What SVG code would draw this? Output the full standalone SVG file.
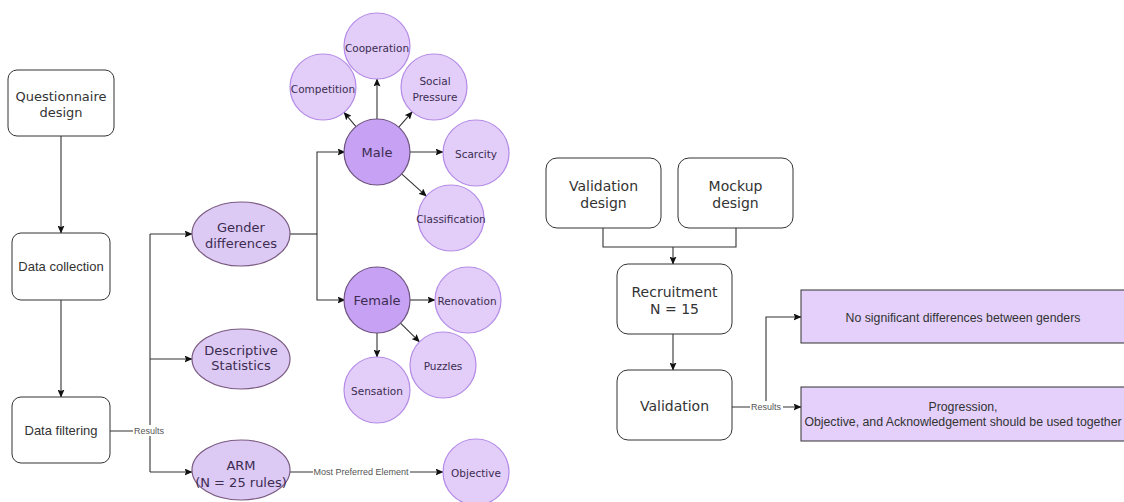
<svg xmlns="http://www.w3.org/2000/svg" width="1124" height="502" viewBox="0 0 1124 502">
  <defs>
    <marker id="arrow" viewBox="0 0 8 7" markerWidth="8" markerHeight="7" refX="7.5" refY="3.5" orient="auto" markerUnits="userSpaceOnUse">
      <path d="M0,0 L8,3.5 L0,7 L1.5,3.5 z" fill="#111"/>
    </marker>
    <style>
      .box { fill: #ffffff; stroke: #333333; stroke-width: 1; }
      .pbox { fill: #e4d0fb; stroke: #333333; stroke-width: 1; }
      .ell { fill: #dccaf5; stroke: #7a5a80; stroke-width: 1.2; }
      .core { fill: #c6a1f4; stroke: #6e5280; stroke-width: 1.2; }
      .leaf { fill: #e2cef9; stroke: #b48be6; stroke-width: 1.2; }
      .edge { fill: none; stroke: #333333; stroke-width: 1.1; }
      .arr { marker-end: url(#arrow); }
      .t-dv { font-family: "DejaVu Sans", Verdana, sans-serif; text-anchor: middle; }
      .t-ar { font-family: "Liberation Sans", Arial, sans-serif; text-anchor: middle; }
      .dark { fill: #333333; }
      .plum { fill: #3c2c50; }
      .lbl { font-family: "Liberation Sans", Arial, sans-serif; font-size: 9px; fill: #555555; text-anchor: middle; }
      .lblbg { fill: #ffffff; }
    </style>
  </defs>

  <!-- connectors -->
  <g id="connectors">
    <!-- study pipeline -->
    <path class="edge arr" d="M61,136 L61,233"/>
    <path class="edge arr" d="M61,300 L61,397"/>
    <path class="edge" d="M110,431 L150,431"/>
    <path class="edge" d="M150,234 L150,472"/>
    <path class="edge arr" d="M150,234 L192,234"/>
    <path class="edge arr" d="M150,359 L192,359"/>
    <path class="edge arr" d="M150,472 L192,472"/>
    <rect class="lblbg" x="133" y="425" width="32" height="11"/>
    <text class="lbl" x="149" y="434">Results</text>

    <!-- gender split -->
    <path class="edge" d="M290,234 L317,234"/>
    <path class="edge arr" d="M317,234 L317,152 L345,152"/>
    <path class="edge arr" d="M317,234 L317,300 L345,300"/>

    <!-- male elements -->
    <path class="edge arr" d="M377,119 L377,79"/>
    <path class="edge arr" d="M356,126.6 L344,112.4"/>
    <path class="edge arr" d="M398.8,127.2 L412.2,111.8"/>
    <path class="edge arr" d="M410,152 L443,152"/>
    <path class="edge arr" d="M401.6,173.9 L426.4,196.1"/>

    <!-- female elements -->
    <path class="edge arr" d="M410,300 L435,300"/>
    <path class="edge arr" d="M400.5,323.2 L419.5,341.8"/>
    <path class="edge arr" d="M377,333 L377,357"/>

    <!-- ARM result -->
    <path class="edge arr" d="M290,472 L443,472"/>
    <rect class="lblbg" x="313" y="466" width="97" height="11"/>
    <text class="lbl" x="361" y="474.5">Most Preferred Element</text>

    <!-- validation pipeline -->
    <path class="edge" d="M603,228 L603,247 L736,247 L736,228"/>
    <path class="edge arr" d="M673,247 L673,264"/>
    <path class="edge arr" d="M673,334 L673,370"/>
    <path class="edge arr" d="M732,407 L801,407"/>
    <path class="edge arr" d="M766,407 L766,317 L801,317"/>
    <rect class="lblbg" x="750" y="401" width="33" height="11"/>
    <text class="lbl" x="766" y="410">Results</text>
  </g>

  <!-- study pipeline nodes -->
  <g id="questionnaire-design">
    <rect class="box" x="8" y="70" width="106" height="66" rx="9"/>
    <text class="t-dv dark" font-size="13" x="61" y="100.5">Questionnaire</text>
    <text class="t-dv dark" font-size="13" x="61" y="116.5">design</text>
  </g>
  <g id="data-collection">
    <rect class="box" x="12" y="233" width="98" height="67" rx="9"/>
    <text class="t-ar dark" font-size="13" x="61" y="270.5">Data collection</text>
  </g>
  <g id="data-filtering">
    <rect class="box" x="12" y="397" width="98" height="66" rx="9"/>
    <text class="t-ar dark" font-size="13" x="61" y="434.5">Data filtering</text>
  </g>

  <g id="gender-differences">
    <ellipse class="ell" cx="241" cy="234" rx="49" ry="32"/>
    <text class="t-dv plum" font-size="13" x="241" y="231.5">Gender</text>
    <text class="t-dv plum" font-size="13" x="241" y="247.5">differences</text>
  </g>
  <g id="descriptive-statistics">
    <ellipse class="ell" cx="241" cy="359" rx="49" ry="30"/>
    <text class="t-dv plum" font-size="13" x="241" y="354.5">Descriptive</text>
    <text class="t-dv plum" font-size="13" x="241" y="369.5">Statistics</text>
  </g>
  <g id="arm">
    <ellipse class="ell" cx="241" cy="470" rx="49" ry="30"/>
    <text class="t-dv plum" font-size="13" x="241" y="469.5">ARM</text>
    <text class="t-dv plum" font-size="13" x="241" y="486.5">(N = 25 rules)</text>
  </g>

  <!-- gender nodes -->
  <g id="male">
    <circle class="core" cx="377" cy="152" r="33"/>
    <text class="t-dv plum" font-size="13" x="377" y="157">Male</text>
  </g>
  <g id="female">
    <circle class="core" cx="377" cy="300" r="33"/>
    <text class="t-dv plum" font-size="13" x="377" y="304.5">Female</text>
  </g>

  <!-- preferred elements -->
  <g id="cooperation">
    <circle class="leaf" cx="377" cy="46" r="33"/>
    <text class="t-dv plum" font-size="10.5" x="377" y="51.5">Cooperation</text>
  </g>
  <g id="competition">
    <circle class="leaf" cx="323" cy="87" r="33"/>
    <text class="t-dv plum" font-size="10.5" x="323" y="92.5">Competition</text>
  </g>
  <g id="social-pressure">
    <circle class="leaf" cx="434" cy="87" r="33"/>
    <text class="t-dv plum" font-size="10.5" x="435" y="84.5">Social</text>
    <text class="t-dv plum" font-size="10.5" x="435" y="100.5">Pressure</text>
  </g>
  <g id="scarcity">
    <circle class="leaf" cx="476" cy="153" r="33"/>
    <text class="t-dv plum" font-size="10.5" x="476" y="157.5">Scarcity</text>
  </g>
  <g id="classification">
    <circle class="leaf" cx="451" cy="218" r="33"/>
    <text class="t-dv plum" font-size="10.5" x="451" y="222.5">Classification</text>
  </g>
  <g id="renovation">
    <circle class="leaf" cx="468" cy="300" r="33"/>
    <text class="t-dv plum" font-size="10.5" x="467" y="304.5">Renovation</text>
  </g>
  <g id="puzzles">
    <circle class="leaf" cx="443" cy="365" r="33"/>
    <text class="t-dv plum" font-size="10.5" x="443" y="369.5">Puzzles</text>
  </g>
  <g id="sensation">
    <circle class="leaf" cx="377" cy="390" r="33"/>
    <text class="t-dv plum" font-size="10.5" x="377" y="394.5">Sensation</text>
  </g>
  <g id="objective">
    <circle class="leaf" cx="476" cy="472" r="33"/>
    <text class="t-dv plum" font-size="10.5" x="476" y="476.5">Objective</text>
  </g>

  <!-- validation pipeline nodes -->
  <g id="validation-design">
    <rect class="box" x="546" y="158" width="115" height="70" rx="11"/>
    <text class="t-dv dark" font-size="14" x="603.5" y="191">Validation</text>
    <text class="t-dv dark" font-size="14" x="603.5" y="208">design</text>
  </g>
  <g id="mockup-design">
    <rect class="box" x="678" y="158" width="115" height="70" rx="11"/>
    <text class="t-dv dark" font-size="14" x="735.5" y="191">Mockup</text>
    <text class="t-dv dark" font-size="14" x="735.5" y="208">design</text>
  </g>
  <g id="recruitment">
    <rect class="box" x="617" y="264" width="115" height="70" rx="11"/>
    <text class="t-dv dark" font-size="14" x="674.5" y="297">Recruitment</text>
    <text class="t-dv dark" font-size="14" x="674.5" y="314">N = 15</text>
  </g>
  <g id="validation">
    <rect class="box" x="617" y="370" width="115" height="70" rx="11"/>
    <text class="t-dv dark" font-size="14" x="674.5" y="411">Validation</text>
  </g>

  <!-- validation results -->
  <g id="result-genders">
    <rect class="pbox" x="801" y="290" width="340" height="53"/>
    <text class="t-ar dark" font-size="12.3" x="963" y="322">No significant differences between genders</text>
  </g>
  <g id="result-elements">
    <rect class="pbox" x="801" y="387" width="340" height="54"/>
    <text class="t-ar dark" font-size="12.3" x="963" y="411">Progression,</text>
    <text class="t-ar dark" font-size="12.3" x="963" y="426">Objective, and Acknowledgement should be used together</text>
  </g>
</svg>
